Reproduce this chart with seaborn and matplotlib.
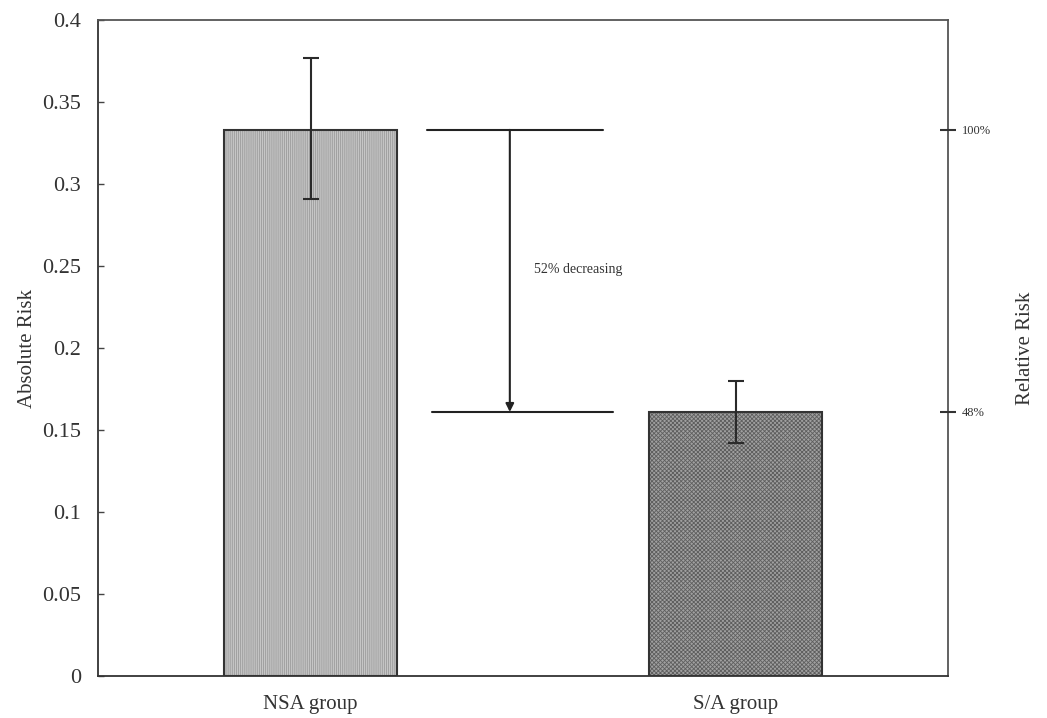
import matplotlib
matplotlib.use("Agg")
import matplotlib.pyplot as plt
import seaborn as sns
import pandas as pd

# ---- data ----
groups = ["NSA group", "S/A group"]
absolute_risk = [0.333, 0.161]
err_upper = [0.377, 0.180]
err_lower = [0.291, 0.142]
relative_labels = ["100%", "48%"]
annotation_text = "52% decreasing"
y_ticks = [0, 0.05, 0.1, 0.15, 0.2, 0.25, 0.3, 0.35, 0.4]
y_tick_labels = ["0", "0.05", "0.1", "0.15", "0.2", "0.25", "0.3", "0.35", "0.4"]

sns.set_style("white")
plt.rcParams["font.family"] = ["Liberation Serif", "DejaVu Serif"]
plt.rcParams["hatch.linewidth"] = 0.6

df = pd.DataFrame({"group": groups, "risk": absolute_risk})

fig = plt.figure(figsize=(10.47, 7.18), dpi=100)
ax = fig.add_axes([98 / 1047, 42 / 718, 850 / 1047, 656 / 718])

sns.barplot(data=df, x="group", y="risk", ax=ax, width=0.405,
            errorbar=None, color="#bdbdbd", edgecolor="#333333",
            linewidth=1.5, zorder=2)

face = ["#c6c6c6", "#a0a0a0"]
hatches = ["||||||||", "xxxxxxxx"]
hcol = ["#9a9a9a", "#5e5e5e"]
for p, fc, h, hc in zip(ax.patches, face, hatches, hcol):
    p.set_facecolor(fc)
    p.set_hatch(h)
    p._hatch_color = matplotlib.colors.to_rgba(hc)

# error bars
xs = list(range(len(groups)))
yerr = [[a - l for a, l in zip(absolute_risk, err_lower)],
        [u - a for a, u in zip(absolute_risk, err_upper)]]
ax.errorbar(xs, absolute_risk, yerr=yerr, fmt="none", ecolor="#2a2a2a",
            elinewidth=1.5, capsize=6, capthick=1.5, zorder=3)

ax.set_xlim(-0.5, 1.5)
ax.set_ylim(0, 0.4)
ax.set_yticks(y_ticks)
ax.set_yticklabels(y_tick_labels)
ax.set_xticks([0.5], minor=True)
ax.tick_params(axis="x", which="major", length=0, pad=14, labelsize=15)
ax.tick_params(axis="x", which="minor", direction="in", length=6, width=1, color="#444444")
ax.tick_params(axis="y", direction="in", length=4, width=1, color="#444444",
               labelsize=16, pad=12)
ax.set_xlabel("")
ax.set_ylabel("Absolute Risk", fontsize=15, labelpad=4, color="#333333")
for lbl in ax.get_xticklabels() + ax.get_yticklabels():
    lbl.set_color("#333333")
for s in ax.spines.values():
    s.set_color("#555555")
    s.set_linewidth(1.3)
    s.set_visible(True)
ax.spines["left"].set_color("#333333")
ax.spines["bottom"].set_color("#333333")

# annotation lines
ax.plot([0.274, 0.688], [absolute_risk[0], absolute_risk[0]], color="#222222", lw=1.5, zorder=3)
ax.plot([0.286, 0.712], [absolute_risk[1], absolute_risk[1]], color="#222222", lw=1.5, zorder=3)
ax.annotate("", xy=(0.469, absolute_risk[1]), xytext=(0.469, absolute_risk[0]),
            arrowprops=dict(arrowstyle="-|>", color="#222222", lw=1.5,
                            mutation_scale=12, shrinkA=0, shrinkB=0))
ax.text(0.527, 0.2476, annotation_text, fontsize=10, color="#333333",
        va="center", ha="left")

# right axis
ax2 = ax.twinx()
ax2.set_ylim(ax.get_ylim())
ax2.set_yticks(absolute_risk)
ax2.set_yticklabels(relative_labels)
ax2.tick_params(axis="y", direction="inout", length=12, width=1.5, color="#333333",
                labelsize=9, pad=4, labelcolor="#333333")
ax2.set_ylabel("Relative Risk", fontsize=15, labelpad=18, color="#333333")
for s in ax2.spines.values():
    s.set_visible(False)

fig.savefig("out.png", dpi=100)
